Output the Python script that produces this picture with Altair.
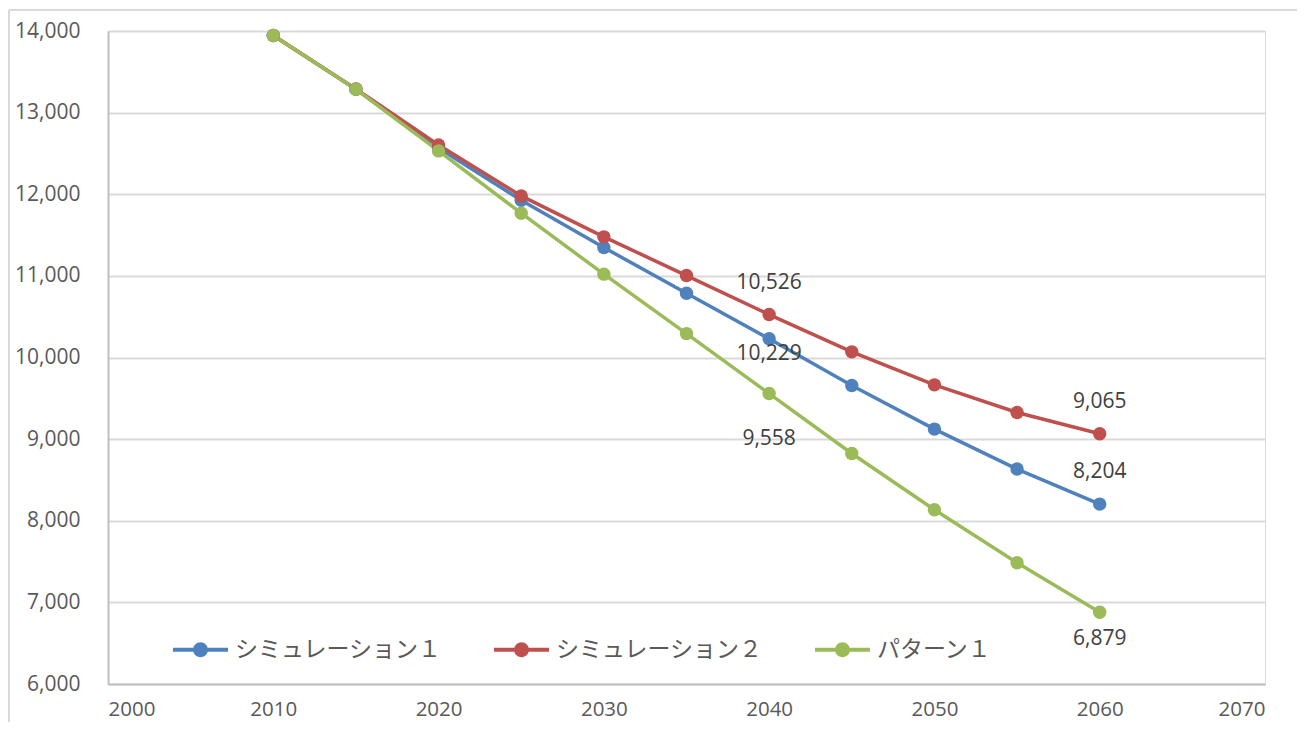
import altair as alt
import pandas as pd

years = [2010, 2015, 2020, 2025, 2030, 2035, 2040, 2045, 2050, 2055, 2060]
series_names = ["シミュレーション１", "シミュレーション２", "パターン１"]
sim1 = [13945, 13286, 12565, 11927, 11347, 10788, 10229, 9657, 9123, 8633, 8204]
sim2 = [13945, 13290, 12604, 11980, 11478, 11004, 10526, 10069, 9665, 9326, 9065]
pat1 = [13945, 13286, 12531, 11768, 11021, 10293, 9558, 8824, 8134, 7485, 6879]
colors = ["#4f81bd", "#c0504d", "#9bbb59"]

rows = []
for name, vals in zip(series_names, [sim1, sim2, pat1]):
    for y, v in zip(years, vals):
        rows.append({"year": y, "value": v, "series": name})
df = pd.DataFrame(rows)

FONT = "Open Sans"
JP = "Noto Sans CJK JP"

legend_path = ("M-1,-0.075 L1,-0.075 L1,0.075 L-1,0.075 Z "
               "M0.27,0 A0.27,0.27 0 1,1 -0.27,0 A0.27,0.27 0 1,1 0.27,0 Z")

x_scale = alt.Scale(domain=[2000, 2070], nice=False)
y_scale = alt.Scale(domain=[6000, 14000], nice=False, zero=False)

x_axis = alt.Axis(values=list(range(2000, 2071, 10)), format="d", title=None,
                  grid=False, ticks=False, domainColor="#bfbfbf", domainWidth=2,
                  labelFont=FONT, labelFontSize=20.5, labelColor="#595959",
                  labelPadding=15)
y_axis = alt.Axis(values=list(range(6000, 14001, 1000)), format=",.0f", title=None,
                  grid=True, gridColor="#d9d9d9", gridWidth=2, ticks=False,
                  domainColor="#bfbfbf", domainWidth=2,
                  labelFont=FONT, labelFontSize=21, labelColor="#595959",
                  labelPadding=28)

x_enc = alt.X("year:Q", scale=x_scale, axis=x_axis)
y_enc = alt.Y("value:Q", scale=y_scale, axis=y_axis)
color_enc = alt.Color("series:N", scale=alt.Scale(domain=series_names, range=colors),
                      legend=alt.Legend(orient="none", legendX=65, legendY=591,
                                        direction="horizontal", title=None,
                                        symbolType=legend_path, symbolSize=3025,
                                        symbolStrokeWidth=0, labelLimit=500,
                                        labelFont=JP, labelFontSize=23,
                                        labelColor="#595959", labelOffset=7,
                                        columnPadding=52))

base = alt.Chart(df).encode(x=x_enc, y=y_enc, color=color_enc)
lines = base.mark_line(strokeWidth=3.5)
points = base.mark_circle(size=180, opacity=1)


def label(series, year, dy):
    return alt.Chart(df).transform_filter(
        (alt.datum.series == series) & (alt.datum.year == year)
    ).mark_text(font=FONT, fontSize=21, color="#404040", dy=dy).encode(
        x=x_enc, y=y_enc,
        text=alt.Text("value:Q", format=",")
    )


labels = [
    label(series_names[1], 2040, -32),
    label(series_names[0], 2040, 15),
    label(series_names[2], 2040, 45),
    label(series_names[1], 2060, -32),
    label(series_names[0], 2060, -32),
    label(series_names[2], 2060, 27),
]

border_top = alt.Chart(df).mark_rule(color="#d9d9d9", strokeWidth=2).encode(
    x=alt.value(-99), x2=alt.value(1200), y=alt.value(-21))
border_left = alt.Chart(df).mark_rule(color="#d9d9d9", strokeWidth=2).encode(
    x=alt.value(-99), y=alt.value(-21), y2=alt.value(720))

chart = alt.layer(lines, points, *labels, border_top, border_left).properties(
    width=1157, height=653,
    autosize=alt.AutoSizeParams(type="none"),
    padding={"left": 100, "top": 23, "right": 32, "bottom": 38},
).configure_view(strokeWidth=0).configure(background="white")

chart.save("out.html", embed_options={"renderer": "svg", "actions": False})
